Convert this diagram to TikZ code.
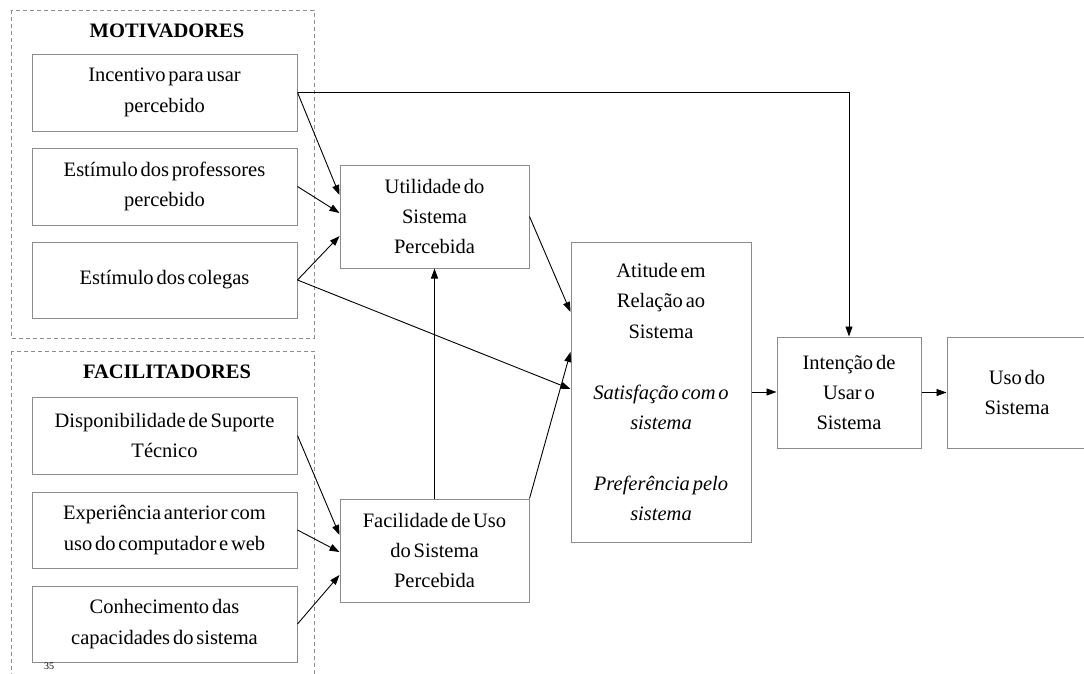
\documentclass[tikz,border=0pt]{standalone}
\usepackage{fontspec}
\setmainfont{Liberation Serif}[WordSpace=0.55]
\usetikzlibrary{arrows.meta}
\definecolor{boxgray}{RGB}{140,140,140}
\tikzset{
  txt/.style={font=\fontsize{20.5}{30.4}\selectfont, align=center, inner sep=0pt},
  box/.style={txt, draw=boxgray, line width=1pt},
  grp/.style={draw=boxgray, dashed, dash pattern=on 4pt off 3pt, line width=0.9pt},
  ttl/.style={font=\fontsize{20.5}{24}\selectfont\bfseries, inner sep=0pt},
  arr/.style={draw=black, line width=0.9pt, -{Triangle[length=10pt,width=7pt]}},
}
\begin{document}
\begin{tikzpicture}[x=1pt,y=-1pt]
\useasboundingbox (0,0) rectangle (1084,673);
\fill[white] (0,0) rectangle (1084,673);
\clip (0,0) rectangle (1084,673);

% groups
\draw[grp] (11,10) rectangle (314,338);
\draw[grp] (11,351) rectangle (314,690);
\node[ttl] (tmot) at (167,31) {MOTIVADORES};
\node[ttl] (tfac) at (167,372) {FACILITADORES};

% left boxes
\node[box, minimum width=265pt, minimum height=77pt] (inc) at (164.5,92.5) {Incentivo para usar\\percebido};
\node[box, minimum width=265pt, minimum height=77pt] (prof) at (164.5,186.5) {Estímulo dos professores\\percebido};
\node[box, minimum width=265pt, minimum height=76pt] (col) at (164.5,280) {Estímulo dos colegas};
\node[box, minimum width=265pt, minimum height=77pt] (disp) at (164.5,435.5) {Disponibilidade de Suporte\\Técnico};
\node[box, minimum width=265pt, minimum height=76pt] (exp) at (164.5,530) {Experiência anterior com\\uso do computador e web};
\node[box, minimum width=265pt, minimum height=76pt] (con) at (164.5,624) {Conhecimento das\\capacidades do sistema};

% middle boxes
\node[box, minimum width=189pt, minimum height=103pt] (ut) at (434.5,216.5) {Utilidade do\\Sistema\\Percebida};
\node[box, minimum width=189pt, minimum height=103pt] (fac) at (434.5,550.5) {Facilidade de Uso\\do Sistema\\Percebida};
\node[box, minimum width=180pt, minimum height=300pt] (at) at (661,392) {Atitude em\\Relação ao\\Sistema\\[30.4pt]\textit{Satisfação com o}\\\textit{sistema}\\[30.4pt]\textit{Preferência pelo}\\\textit{sistema}};
\node[box, minimum width=144pt, minimum height=111pt] (int) at (849,392.5) {Intenção de\\Usar o\\Sistema};
\node[box, minimum width=140pt, minimum height=111pt] (uso) at (1017,392.5) {Uso do\\Sistema};

\node[font=\fontsize{10}{10}\selectfont, anchor=north, inner sep=0pt] (pg) at (49,663) {35};

% connectors
\draw[arr] (inc.east) -- ([yshift=21.5pt]ut.west);
\draw[arr] (prof.east) -- ([yshift=3.5pt]ut.west);
\draw[arr] (col.east) -- ([yshift=-19.5pt]ut.west);
\draw[arr] (col.east) -- ([yshift=3pt]at.west);
\draw[arr] (ut.east) -- ([yshift=80pt]at.west);
\draw[arr] (fac.north east) -- ([yshift=40pt]at.west);
\draw[arr] (fac.north) -- (ut.south);
\draw[arr] (disp.east) -- ([yshift=15.5pt]fac.west);
\draw[arr] (exp.east) -- ([yshift=-1.5pt]fac.west);
\draw[arr] (con.east) -- ([yshift=-24.5pt]fac.west);
\draw[arr] (at.east) -- (at.east -| int.west);
\draw[arr] (int.east) -- (uso.west);
\draw[arr] (inc.east) -- (inc.east -| int.north) -- (int.north);
\end{tikzpicture}
\end{document}
